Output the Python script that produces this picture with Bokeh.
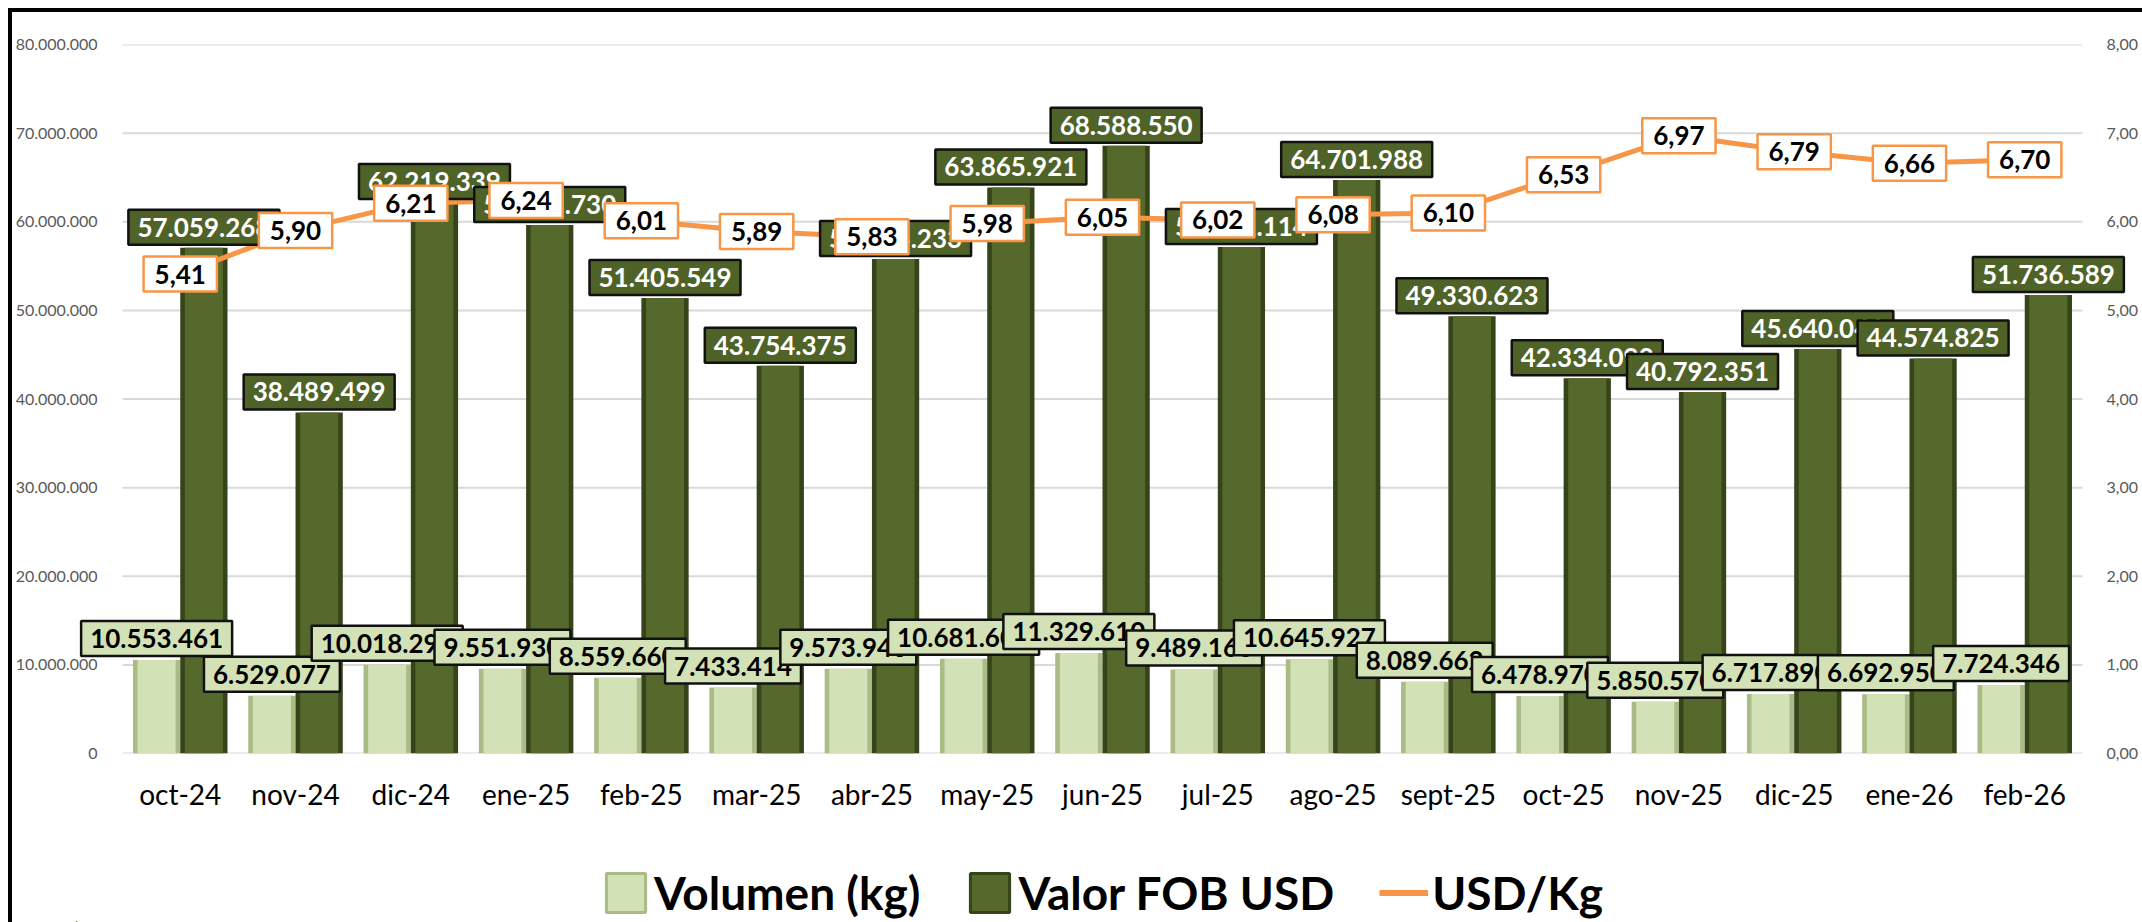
from bokeh.plotting import figure
from bokeh.layouts import column
from bokeh.models import (FactorRange, Range1d, LinearAxis, ColumnDataSource,
                          CustomJSTickFormatter, Legend, LegendItem)
from bokeh.transform import dodge
from bokeh.core.properties import value
from bokeh.embed import file_html
from bokeh.resources import INLINE

months = ["oct-24", "nov-24", "dic-24", "ene-25", "feb-25", "mar-25", "abr-25",
          "may-25", "jun-25", "jul-25", "ago-25", "sept-25", "oct-25", "nov-25",
          "dic-25", "ene-26", "feb-26"]
volumen_kg = [10553461, 6529077, 10018290, 9551930, 8559660, 7433414, 9573940,
              10681600, 11329610, 9489160, 10645927, 8089662, 6478970, 5850570,
              6717890, 6692950, 7724346]
valor_fob_usd = [57059268, 38489499, 62219339, 59628730, 51405549, 43754375,
                 55796233, 63865921, 68588550, 57161114, 64701988, 49330623,
                 42334092, 40792351, 45640041, 44574825, 51736589]
usd_kg = [5.41, 5.90, 6.21, 6.24, 6.01, 5.89, 5.83, 5.98, 6.05, 6.02, 6.08,
          6.10, 6.53, 6.97, 6.79, 6.66, 6.70]
left_ticks = [0, 10_000_000, 20_000_000, 30_000_000, 40_000_000, 50_000_000,
              60_000_000, 70_000_000, 80_000_000]
right_ticks = [0, 1, 2, 3, 4, 5, 6, 7, 8]
series_names = ["Volumen (kg)", "Valor FOB USD", "USD/Kg"]


def fmt_int(v):
    return f"{v:,}".replace(",", ".")


def fmt_dec(v):
    return f"{v:.2f}".replace(".", ",")


src = ColumnDataSource(dict(
    month=months,
    vol=volumen_kg,
    val=valor_fob_usd,
    usd=usd_kg,
    vol_txt=[fmt_int(v) for v in volumen_kg],
    val_txt=[fmt_int(v) for v in valor_fob_usd],
    usd_txt=[fmt_dec(v) for v in usd_kg],
))
grid_src = ColumnDataSource(dict(
    y=left_ticks,
    x0=[months[0]] * len(left_ticks),
    x1=[months[-1]] * len(left_ticks),
))

FONT = "Lato"
VOL_FILL = "#D3E1B6"
VOL_EDGE = "#A9BB86"
VAL_FILL = "#56692C"
VAL_EDGE = "#36441A"
ORANGE = "#F79646"

xr = FactorRange(*months, range_padding=0.4, range_padding_units="absolute")
p = figure(x_range=xr, y_range=Range1d(0, 80_000_000),
           frame_width=2052, frame_height=709,
           output_backend="svg", toolbar_location=None,
           min_border_left=64, min_border_right=8, min_border_top=32, min_border_bottom=70)
p.outline_line_color = None
p.background_fill_color = "white"
p.border_fill_color = "white"
p.extra_y_ranges = {"usd": Range1d(0, 8)}

p.xgrid.grid_line_color = None
p.ygrid.grid_line_color = None
p.segment(x0=dodge("x0", -0.5, range=xr), x1=dodge("x1", 0.5, range=xr),
          y0="y", y1="y", source=grid_src, line_color="#D9D9D9", line_width=2)

ly = p.yaxis[0]
ly.ticker = left_ticks
ly.formatter = CustomJSTickFormatter(
    code="return tick.toFixed(0).replace(/\\B(?=(\\d{3})+(?!\\d))/g, '.');")
ly.axis_line_color = None
ly.major_tick_line_color = None
ly.minor_tick_line_color = None
ly.major_label_text_font = FONT
ly.major_label_text_font_size = "16px"
ly.major_label_text_color = "#595959"
ly.major_label_standoff = -27

ry = LinearAxis(y_range_name="usd", ticker=right_ticks,
                formatter=CustomJSTickFormatter(code="return tick.toFixed(2).replace('.', ',');"))
ry.axis_line_color = None
ry.major_tick_line_color = None
ry.minor_tick_line_color = None
ry.major_label_text_font = FONT
ry.major_label_text_font_size = "16px"
ry.major_label_text_color = "#595959"
ry.major_label_standoff = -28
p.add_layout(ry, "right")

xa = p.xaxis[0]
xa.axis_line_color = None
xa.major_tick_line_color = None
xa.minor_tick_line_color = None
xa.major_label_text_font = FONT
xa.major_label_text_font_size = "28px"
xa.major_label_text_color = "#000000"
xa.major_label_standoff = 17

BW = 0.41
OFF = 0.205
p.vbar(x=dodge("month", -OFF, range=xr), top="vol", width=BW,
       source=src, fill_color=VOL_EDGE, line_color=None)
p.vbar(x=dodge("month", -OFF, range=xr), top="vol", width=BW - 0.08,
       source=src, fill_color=VOL_FILL, line_color=None)
p.vbar(x=dodge("month", OFF, range=xr), top="val", width=BW,
       source=src, fill_color=VAL_EDGE, line_color=None)
p.vbar(x=dodge("month", OFF, range=xr), top="val", width=BW - 0.08,
       source=src, fill_color=VAL_FILL, line_color=None)

p.line(x="month", y="usd", source=src, y_range_name="usd",
       line_color=ORANGE, line_width=5)

common = dict(text_font=value(FONT), text_font_style="bold", text_font_size="26px",
              border_line_width=2.5)
pad_num = dict(left=9, right=9, top=8, bottom=8)
pad_usd = dict(left=11, right=11, top=8, bottom=8)

p.text(x=dodge("month", -OFF, range=xr), y="vol", text="vol_txt", source=src,
       anchor="bottom_center", y_offset=-4, text_color="black", padding=pad_num,
       background_fill_color=VOL_FILL, border_line_color="#111111", **common)
p.text(x=dodge("month", OFF, range=xr), y="val", text="val_txt", source=src,
       anchor="bottom_center", y_offset=-3, text_color="white", padding=pad_num,
       background_fill_color="#4F6228", border_line_color="#111111", **common)
p.text(x="month", y="usd", text="usd_txt", source=src, y_range_name="usd",
       anchor="center", text_color="black", padding=pad_usd,
       background_fill_color="white", border_line_color=ORANGE, **common)

# legend strip below the chart; proxy glyphs (placed outside the visible range)
# carry the series styles for the legend swatches
lf = figure(width=2130, height=99, output_backend="svg", toolbar_location=None,
            x_range=Range1d(0, 1), y_range=Range1d(0, 1),
            min_border=0, min_border_left=0, min_border_right=0,
            min_border_top=0, min_border_bottom=0)
lf.axis.visible = False
lf.grid.visible = False
lf.outline_line_color = None
lf.border_fill_color = "white"
lf.background_fill_color = "white"
proxy = ColumnDataSource(dict(x=[-5.0, -4.0], y=[-5.0, -5.0]))
g_vol = lf.vbar(x="x", top="y", width=0.1, source=proxy,
                fill_color=VOL_FILL, line_color=VOL_EDGE, line_width=3)
g_val = lf.vbar(x="x", top="y", width=0.1, source=proxy,
                fill_color=VAL_FILL, line_color=VAL_EDGE, line_width=3)
g_usd = lf.line(x="x", y="y", source=proxy, line_color=ORANGE, line_width=6)

legend = Legend(items=[LegendItem(label=series_names[0], renderers=[g_vol], index=0),
                       LegendItem(label=series_names[1], renderers=[g_val], index=0),
                       LegendItem(label=series_names[2], renderers=[g_usd])],
                orientation="horizontal", location=(525, 2),
                glyph_width=49, glyph_height=49, label_standoff=4, spacing=45,
                label_text_font=FONT, label_text_font_style="bold",
                label_text_font_size="46px", label_text_color="black",
                background_fill_alpha=0, border_line_color=None,
                padding=0, margin=0)
lf.add_layout(legend, "center")

layout = column(p, lf, spacing=0)
layout.styles = {"margin-left": "8px", "margin-top": "8px",
                 "border-left": "4px solid black", "border-top": "4px solid black"}

open("out.html", "w").write(file_html(layout, INLINE))
